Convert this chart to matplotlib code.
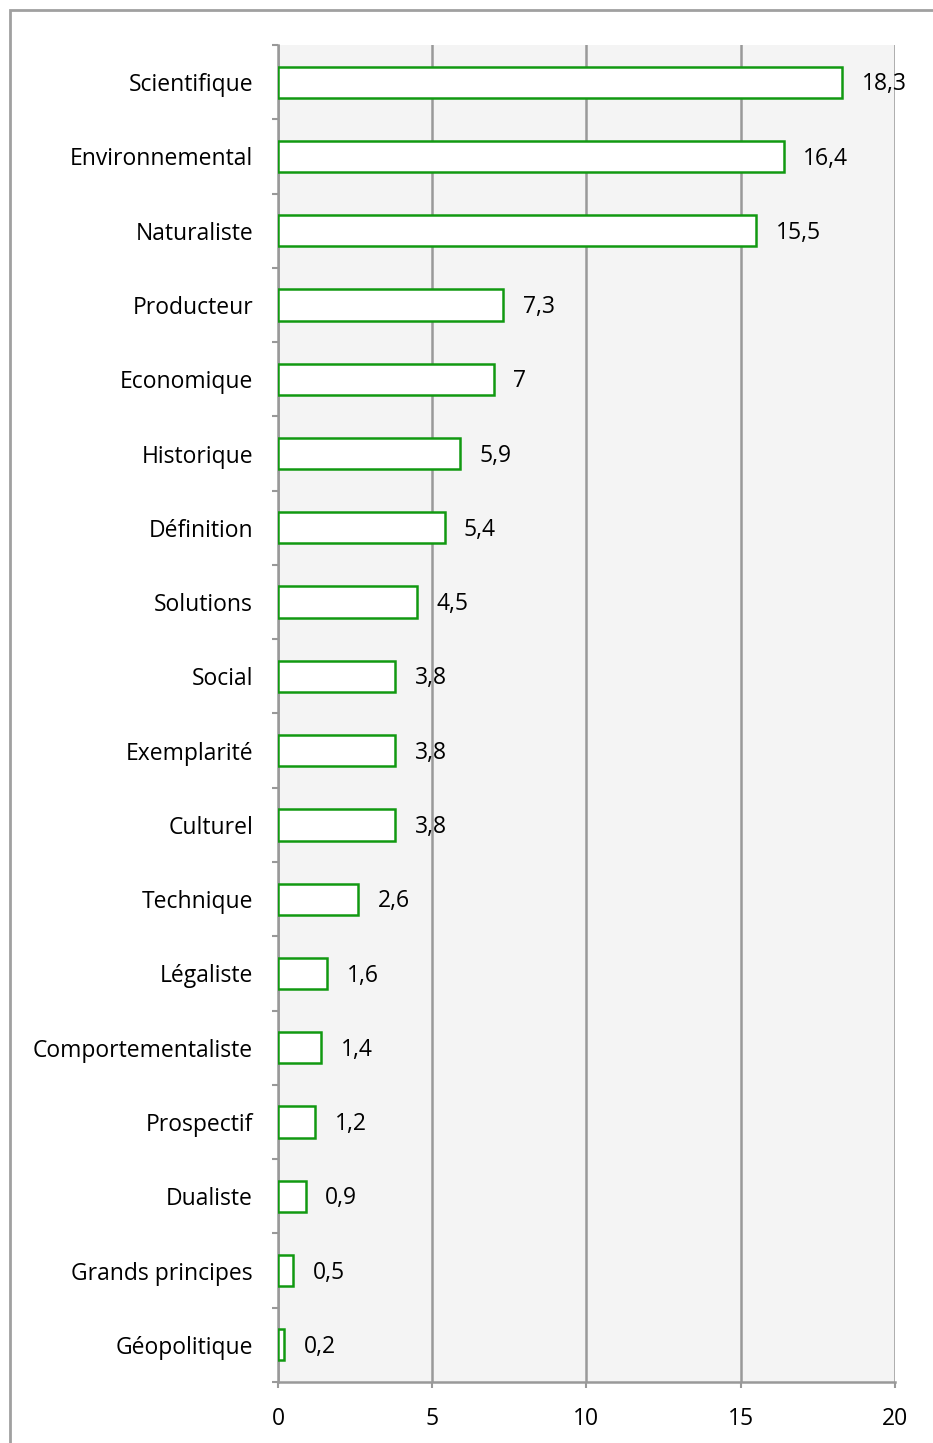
import matplotlib.pyplot as plt
from matplotlib.patches import Rectangle
import numpy as np

# Categories (top to bottom) and values (%)
categories = ["Scientifique", "Environnemental", "Naturaliste", "Producteur",
              "Economique", "Historique", "Définition", "Solutions", "Social",
              "Exemplarité", "Culturel", "Technique", "Légaliste",
              "Comportementaliste", "Prospectif", "Dualiste", "Grands principes",
              "Géopolitique"]
values = [18.3, 16.4, 15.5, 7.3, 7.0, 5.9, 5.4, 4.5, 3.8, 3.8, 3.8, 2.6, 1.6,
          1.4, 1.2, 0.9, 0.5, 0.2]
xticks = [0, 5, 10, 15, 20]

plt.rcParams['font.family'] = ['Open Sans', 'DejaVu Sans']
fs = 16.5

fig = plt.figure(figsize=(9.33, 14.43), dpi=100)
ax = fig.add_axes([0.298, 0.0423, 0.661, 0.9265])

n = len(categories)
y = np.arange(n)
ax.barh(y, values, height=0.42, color='white', edgecolor='#119911',
        linewidth=1.8, zorder=3)

for yi, v in zip(y, values):
    lab = f"{v:g}".replace('.', ',')
    ax.annotate(lab, (v, yi), xytext=(14, -1.5), textcoords='offset points',
                va='center', ha='left', fontsize=fs, color='black', zorder=5)

ax.set_xlim(0, 20)
ax.set_ylim(n - 0.5, -0.5)
ax.set_facecolor('#f4f4f4')

ax.set_xticks(xticks)
ax.set_xticklabels([str(t) for t in xticks], fontsize=fs)
ax.set_yticks(y)
ax.set_yticklabels(categories, fontsize=fs)
ax.tick_params(axis='y', length=0, pad=18)
ax.set_yticks(np.arange(-0.5, n, 1), minor=True)
ax.tick_params(axis='y', which='minor', length=4, width=1.5, color='#999999',
               direction='out')
ax.tick_params(axis='x', length=4, width=1.5, color='#999999', pad=14)

ax.grid(axis='x', color='#999999', linewidth=1.8, zorder=1)
ax.set_axisbelow(True)
for s in ['top', 'right']:
    ax.spines[s].set_visible(False)
for s in ['left', 'bottom']:
    ax.spines[s].set_color('#999999')
    ax.spines[s].set_linewidth(1.8)

# outer chart frame
fig.patches.append(Rectangle((10 / 933, -0.05), 1.0, 1 - 10 / 1443 + 0.05,
                             transform=fig.transFigure, fill=False,
                             edgecolor='#a0a0a0', linewidth=2))

fig.savefig("out.png", dpi=100)
